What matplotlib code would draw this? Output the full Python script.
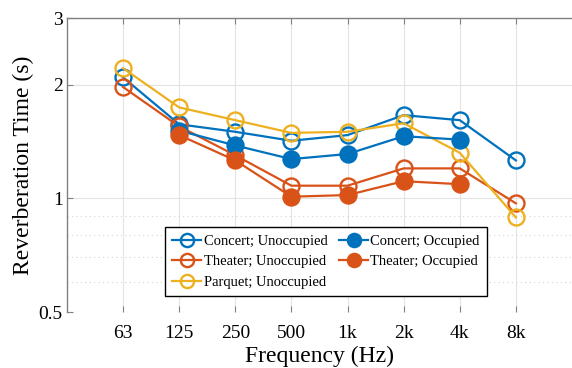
import matplotlib.pyplot as plt
from matplotlib.ticker import NullFormatter

# octave bands
bands = ["63", "125", "250", "500", "1k", "2k", "4k", "8k"]
band_idx = [1, 2, 3, 4, 5, 6, 7, 8]

concert_unocc = [2.09, 1.57, 1.50, 1.42, 1.47, 1.66, 1.61, 1.26]
theater_unocc = [1.97, 1.55, 1.30, 1.08, 1.08, 1.20, 1.20, 0.97]
parquet_unocc = [2.21, 1.74, 1.61, 1.49, 1.50, 1.58, 1.32, 0.89]
concert_occ = [1.51, 1.38, 1.27, 1.31, 1.46, 1.43]
theater_occ = [1.47, 1.26, 1.01, 1.02, 1.11, 1.09]
occ_idx = band_idx[1:7]

blue = "#0072BD"
orange = "#D95319"
yellow = "#EDB120"

plt.rcParams["font.family"] = ["Liberation Serif", "DejaVu Serif"]

fig = plt.figure(figsize=(5.72, 3.68), dpi=100)
ax = fig.add_axes([0.117, 0.152, 0.883, 0.799])

kw = dict(lw=1.6, ms=11.5, mew=1.7)
ax.plot(band_idx, concert_unocc, "-o", color=blue, mfc="none", label="Concert; Unoccupied", **kw)
ax.plot(band_idx, theater_unocc, "-o", color=orange, mfc="none", label="Theater; Unoccupied", **kw)
ax.plot(band_idx, parquet_unocc, "-o", color=yellow, mfc="none", label="Parquet; Unoccupied", **kw)
ax.plot(occ_idx, concert_occ, "-o", color=blue, label="Concert; Occupied", **kw)
ax.plot(occ_idx, theater_occ, "-o", color=orange, label="Theater; Occupied", **kw)

ax.set_yscale("log")
ax.set_ylim(0.5, 3)
ax.set_xlim(0, 9)
ax.set_yticks([0.5, 1, 2, 3])
ax.set_yticklabels(["0.5", "1", "2", "3"])
ax.set_yticks([0.6, 0.7, 0.8, 0.9], minor=True)
ax.yaxis.set_minor_formatter(NullFormatter())
ax.set_xticks(band_idx)
ax.set_xticklabels(bands)

ax.grid(True, which="major", color="#e3e3e3", lw=0.8)
ax.grid(True, which="minor", axis="y", color="#d5d5d5", lw=0.8, ls=(0, (1, 3)))
ax.set_axisbelow(True)

for s in ["right", "bottom"]:
    ax.spines[s].set_visible(False)
for s in ["top", "left"]:
    ax.spines[s].set_color("#808080")
    ax.spines[s].set_linewidth(1.0)

ax.tick_params(which="major", direction="in", length=4, color="#808080",
               labelsize=14, top=True, pad=9)
ax.tick_params(axis="y", pad=3)
ax.tick_params(which="minor", length=0)

ax.set_xlabel("Frequency (Hz)", fontsize=17, labelpad=3)
ax.set_ylabel("Reverberation Time (s)", fontsize=17, labelpad=3)

leg = ax.legend(ncol=2, loc="lower center", bbox_to_anchor=(0.513, 0.03),
                fontsize=10.5, frameon=True, fancybox=False, framealpha=1,
                edgecolor="black", handlelength=2.0, columnspacing=0.8,
                labelspacing=0.5, borderpad=0.5, handletextpad=0.15)
leg.get_frame().set_linewidth(1.0)
for h in leg.legend_handles:
    h.set_markersize(9.5)

fig.savefig("out.png", dpi=100)
